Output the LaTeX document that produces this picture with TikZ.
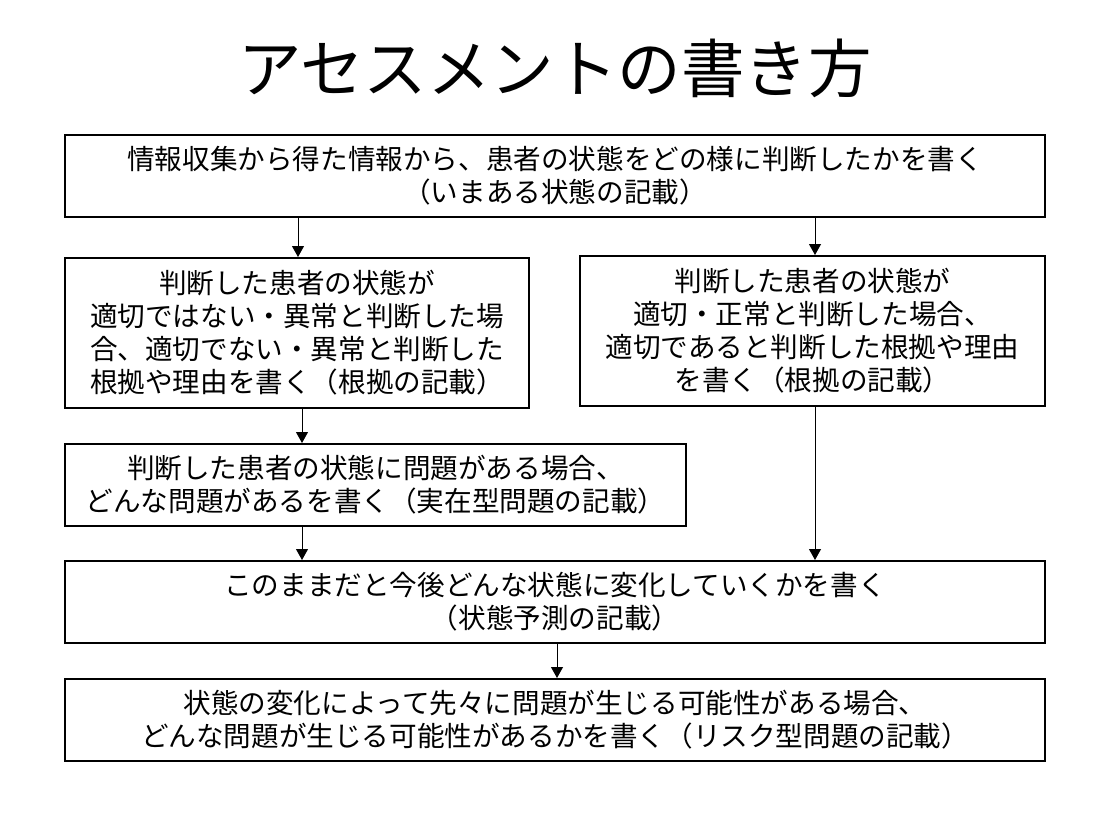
\documentclass[tikz,border=0pt]{standalone}
\usepackage{fontspec}
\setmainfont{Noto Sans CJK JP}
\usetikzlibrary{arrows.meta}
\tikzset{
  box/.style={draw=black, line width=2pt, inner sep=0pt, align=center,
    font=\fontsize{27.6}{33}\selectfont},
  arr/.style={line width=1pt, -{Triangle[width=12pt,length=11pt]}}
}
\begin{document}
\begin{tikzpicture}[x=1pt,y=-1pt]
\useasboundingbox (0,0) rectangle (1110,816);
\node[font=\fontsize{63.5}{65}\selectfont] (title) at (555,68) {アセスメントの書き方};
\node[box, minimum width=980pt, minimum height=82pt] (b1) at (555,176)
  {情報収集から得た情報から、患者の状態をどの様に判断したかを書く\\（いまある状態の記載）};
\node[box, minimum width=464pt, minimum height=150pt] (b2) at (297,333)
  {判断した患者の状態が\\適切ではない・異常と判断した場\\合、適切でない・異常と判断した\\根拠や理由を書く（根拠の記載）};
\node[box, minimum width=465pt, minimum height=150pt] (b3) at (812.5,331)
  {判断した患者の状態が\\適切・正常と判断した場合、\\適切であると判断した根拠や理由\\を書く（根拠の記載）};
\node[box, minimum width=621pt, minimum height=82pt] (b4) at (375.5,485)
  {判断した患者の状態に問題がある場合、\\どんな問題があるを書く（実在型問題の記載）};
\node[box, minimum width=980pt, minimum height=82pt] (b5) at (555,602)
  {このままだと今後どんな状態に変化していくかを書く\\（状態予測の記載）};
\node[box, minimum width=980pt, minimum height=82pt] (b6) at (555,720)
  {状態の変化によって先々に問題が生じる可能性がある場合、\\どんな問題が生じる可能性があるかを書く（リスク型問題の記載）};
\coordinate (xl) at (298,0);
\coordinate (xr) at (815,0);
\coordinate (xm) at (302,0);
\coordinate (xc) at (557,0);
\draw[arr] (b1.south -| xl) -- (b2.north -| xl);
\draw[arr] (b1.south -| xr) -- (b3.north -| xr);
\draw[arr] (b2.south -| xm) -- (b4.north -| xm);
\draw[arr] (b4.south -| xm) -- (b5.north -| xm);
\draw[arr] (b3.south -| xr) -- (b5.north -| xr);
\draw[arr] (b5.south -| xc) -- (b6.north -| xc);
\end{tikzpicture}
\end{document}
